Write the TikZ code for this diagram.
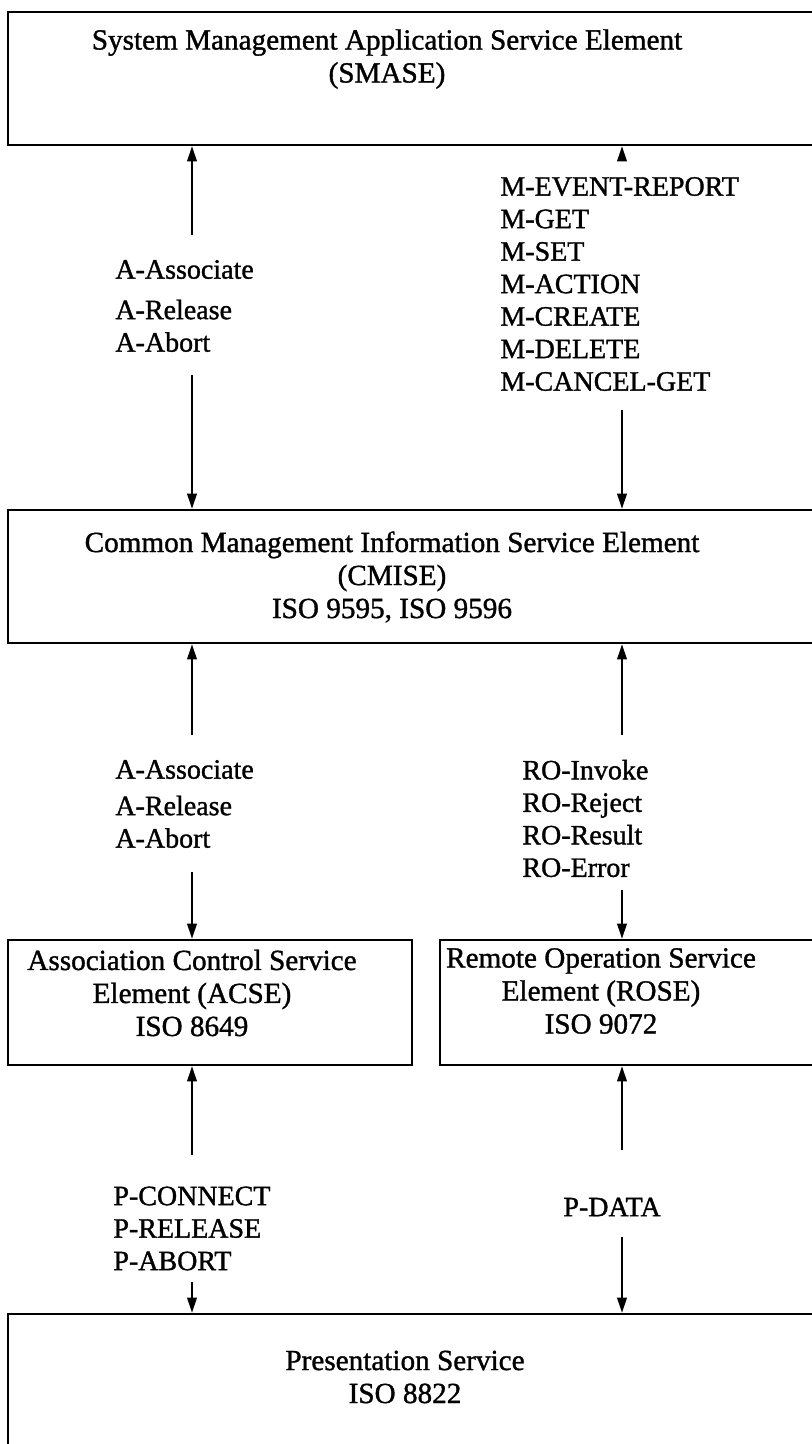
\documentclass[tikz,border=0pt]{standalone}
\usepackage{fontspec}
\setmainfont{Liberation Serif}[FakeBold=1.2]
\usetikzlibrary{arrows.meta,fit}

\begin{document}
\begin{tikzpicture}[x=0.5pt,y=-0.5pt,
  box/.style={draw, line width=1.3pt, inner sep=0pt},
  boxtext/.style={align=center, inner sep=0pt, font=\fontsize{14.6}{16.5}\selectfont},
  prims/.style={align=left, anchor=west, inner sep=0pt, font=\fontsize{14}{16.25}\selectfont},
  arr/.style={line width=0.9pt, -{Triangle[length=7.5pt,width=4.8pt]}}]
\useasboundingbox (0,0) rectangle (812,1444);

% service element boxes (the wide ones run past the right edge)
\node[box, fit={(8,12) (880,145)}] (smase) {};
\node[box, fit={(8,510) (880,643)}] (cmise) {};
\node[box, fit={(8,940) (412,1065)}] (acse) {};
\node[box, fit={(440,940) (880,1065)}] (rose) {};
\node[box, fit={(8,1314) (880,1480)}] (pres) {};

% box captions
\node[boxtext] (smaset) at (387,59) {System Management Application Service Element\\(SMASE)};
\node[boxtext] (cmiset) at (392,577) {Common Management Information Service Element\\(CMISE)\\ISO 9595, ISO 9596};
\node[boxtext] (acset) at (192,993) {Association Control Service\\Element (ACSE)\\ISO 8649};
\node[boxtext] (roset) at (601,991) {Remote Operation Service\\Element (ROSE)\\ISO 9072};
\node[boxtext] (prest) at (405,1377) {Presentation Service\\ISO 8822};

% service primitives
\node[prims] (aprim1) at (115,306) {A-Associate\\[4pt]A-Release\\A-Abort};
\node[prims] (mprim) at (500,284) {M-EVENT-REPORT\\M-GET\\M-SET\\M-ACTION\\M-CREATE\\M-DELETE\\M-CANCEL-GET};
\node[prims] (aprim2) at (115,804) {A-Associate\\[2pt]A-Release\\A-Abort};
\node[prims] (roprim) at (522,818.5) {RO-Invoke\\RO-Reject\\RO-Result\\RO-Error};
\node[prims] (pprim) at (113,1228.5) {P-CONNECT\\P-RELEASE\\P-ABORT};
\node[prims] (pdata) at (563,1207) {P-DATA};

% open ends of the arrow pairs beside the primitive lists
\coordinate (s1a) at (192,235);  \coordinate (s1b) at (192,375);
\coordinate (s2a) at (622,160);  \coordinate (s2b) at (622,410);
\coordinate (s3a) at (192,735);  \coordinate (s3b) at (192,872);
\coordinate (s4a) at (622,735);  \coordinate (s4b) at (622,890);
\coordinate (s5a) at (192,1155); \coordinate (s5b) at (192,1282);
\coordinate (s6a) at (622,1150); \coordinate (s6b) at (622,1237);

\draw[arr] (s1a) -- (smase.south -| s1a);
\draw[arr] (s1b) -- (cmise.north -| s1b);
\draw[arr] (s2a) -- (smase.south -| s2a);
\draw[arr] (s2b) -- (cmise.north -| s2b);
\draw[arr] (s3a) -- (cmise.south -| s3a);
\draw[arr] (s3b) -- (acse.north -| s3b);
\draw[arr] (s4a) -- (cmise.south -| s4a);
\draw[arr] (s4b) -- (rose.north -| s4b);
\draw[arr] (s5a) -- (acse.south -| s5a);
\draw[arr] (s5b) -- (pres.north -| s5b);
\draw[arr] (s6a) -- (rose.south -| s6a);
\draw[arr] (s6b) -- (pres.north -| s6b);
\end{tikzpicture}
\end{document}
